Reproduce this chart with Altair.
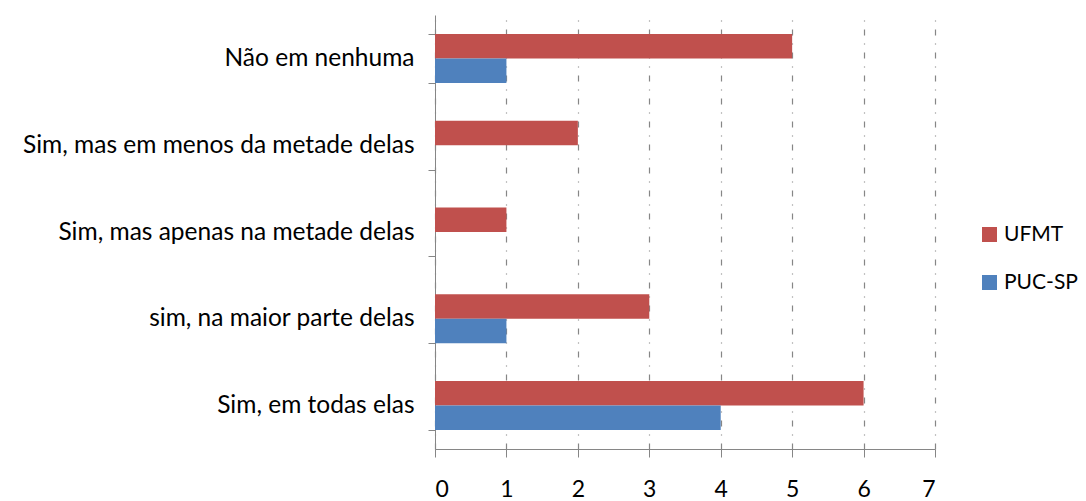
import altair as alt
import pandas as pd

categories = ["Não em nenhuma", "Sim, mas em menos da metade delas",
              "Sim, mas apenas  na metade delas", "sim, na maior parte delas",
              "Sim, em todas elas"]
ufmt = [5, 2, 1, 3, 6]
pucsp = [1, 0, 0, 1, 4]
series = ["UFMT", "PUC-SP"]
colors = ["#C0504D", "#4F81BD"]
x_ticks = [0, 1, 2, 3, 4, 5, 6, 7]

rows = []
for c, u, p in zip(categories, ufmt, pucsp):
    rows.append({"cat": c, "serie": "UFMT", "val": u})
    rows.append({"cat": c, "serie": "PUC-SP", "val": p})
df = pd.DataFrame(rows)

FONT = "Lato"

chart = alt.Chart(df).mark_bar().encode(
    y=alt.Y("cat:N", sort=categories, title=None,
            scale=alt.Scale(paddingInner=0.436, paddingOuter=0.218),
            axis=alt.Axis(tickBand="extent", domainColor="#868686", tickColor="#868686",
                          tickSize=7, labelFontSize=24.5, labelFont=FONT, labelColor="#000000",
                          labelPadding=14, labelLimit=0, grid=False)),
    yOffset=alt.YOffset("serie:N", sort=series),
    x=alt.X("val:Q", title=None, scale=alt.Scale(domain=[0, 7], nice=False, zero=True),
            axis=alt.Axis(values=x_ticks, domainColor="#868686", labelOverlap=False,
                          tickColor="#868686", tickSize=8, labelFontSize=23, labelFont=FONT,
                          labelColor="#000000", labelPadding=21, grid=True,
                          gridColor="#868686", gridDash=[6, 8, 1, 8], gridWidth=1.2)),
    color=alt.Color("serie:N", sort=series,
                    scale=alt.Scale(domain=series, range=colors),
                    legend=alt.Legend(title=None, orient="none", legendX=544, legendY=209,
                                      symbolType="square", symbolSize=225, symbolStrokeWidth=0,
                                      labelFontSize=21, labelFont=FONT, labelColor="#000000",
                                      rowPadding=26, labelOffset=4, padding=0)),
).properties(
    width=500, height=434,
    background="white",
    autosize=alt.AutoSizeParams(type="none"),
    padding={"left": 427, "top": 7, "right": 143, "bottom": 52},
).configure_view(stroke=None)

chart.save("out.html", embed_options={"renderer": "svg", "actions": False})
